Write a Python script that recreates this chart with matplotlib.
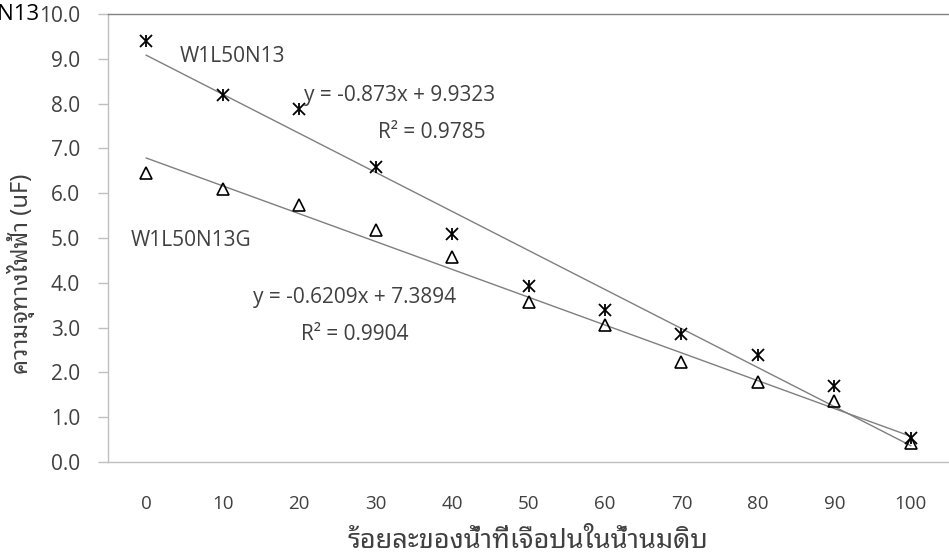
import matplotlib
matplotlib.use("Agg")
import matplotlib.pyplot as plt
import numpy as np

# ---- data ----
water_pct = ["0", "10", "20", "30", "40", "50", "60", "70", "80", "90", "100"]
w1l50n13 = [9.40, 8.19, 7.88, 6.58, 5.09, 3.93, 3.39, 2.86, 2.39, 1.70, 0.54]
w1l50n13g = [6.45, 6.09, 5.74, 5.18, 4.58, 3.57, 3.06, 2.23, 1.79, 1.36, 0.42]
y_ticks = [0.0, 1.0, 2.0, 3.0, 4.0, 5.0, 6.0, 7.0, 8.0, 9.0, 10.0]
series_names = ["W1L50N13", "W1L50N13G"]
eq_texts = ["y = -0.873x + 9.9323", "y = -0.6209x + 7.3894"]
r2_texts = ["R² = 0.9785", "R² = 0.9904"]
x_label = "ร้อยละของน้ำที่เจือปนในน้ำนมดิบ"
y_label = "ความจุทางไฟฟ้า (uF)"

NUM_FONT = ["Open Sans", "DejaVu Sans"]
THAI_FONT = ["Noto Sans Thai Looped", "DejaVu Sans"]
TXT = "#404040"
AX = "#bfbfbf"

fig = plt.figure(figsize=(9.49, 5.58), dpi=100)
ax = fig.add_axes([108 / 949, 1 - 462 / 558, 1 - 108 / 949, (462 - 14) / 558])

x = np.arange(1, len(water_pct) + 1)

# trend lines (linear fit over category index)
for ys in (w1l50n13, w1l50n13g):
    k, b = np.polyfit(x, ys, 1)
    xx = np.array([x[0], x[-1]])
    ax.plot(xx, k * xx + b, color="#7f7f7f", lw=1.0, zorder=2)

# series 1: asterisk markers (x + vertical bar)
ax.plot(x, w1l50n13, ls="none", marker="x", ms=8, mew=1.3, color="black", zorder=3)
ax.plot(x, w1l50n13, ls="none", marker="|", ms=9, mew=1.3, color="black", zorder=3)
# series 2: open triangles
ax.plot(x, w1l50n13g, ls="none", marker="^", ms=8, mew=1.2, mfc="none", mec="black", zorder=3)

ax.set_xlim(0.5, len(water_pct) + 0.5)
ax.set_ylim(0, 10)
ax.set_xticks(x)
ax.set_xticklabels(water_pct, family=NUM_FONT, fontsize=13.5, color=TXT)
ax.set_yticks(y_ticks)
ax.set_yticklabels([f"{v:.1f}" for v in y_ticks], family=NUM_FONT, fontsize=15, color=TXT)
ax.tick_params(axis="x", length=0, pad=24)
ax.tick_params(axis="y", length=7, width=1, color=AX, pad=13)

ax.spines["right"].set_visible(False)
ax.spines["top"].set_color("#808080")
ax.spines["left"].set_color(AX)
ax.spines["bottom"].set_color(AX)
for s in ax.spines.values():
    s.set_linewidth(1.0)

ax.set_xlabel(x_label, family=THAI_FONT, fontsize=19.5, color=TXT)
ax.xaxis.set_label_coords((528 - 108) / (949 - 108), -(541 - 462) / 448)
ax.xaxis.label.set_va("center")
ax.set_ylabel(y_label, family=THAI_FONT, fontsize=17, color=TXT)
ax.yaxis.set_label_coords(-(108 - 21) / 841, (462 - 274) / 448)
ax.yaxis.label.set_va("center")

def px2data(px, py):
    return 1 + (px - 147) / 76.4, (462 - py) / 44.8

kw = dict(family=NUM_FONT, fontsize=15, color=TXT, va="center")
ax.text(*px2data(180, 57), series_names[0], ha="left", **kw)
ax.text(*px2data(400, 95), eq_texts[0], ha="center", **kw)
ax.text(*px2data(432, 133), r2_texts[0], ha="center", **kw)
ax.text(*px2data(131, 240), series_names[1], ha="left", **kw)
ax.text(*px2data(355, 298), eq_texts[1], ha="center", **kw)
ax.text(*px2data(355, 335), r2_texts[1], ha="center", **kw)

# clipped stray label at the top-left corner
fig.text(40 / 949, 1 - 15 / 558, series_names[0], ha="right", va="center",
         family=NUM_FONT, fontsize=16, color="black")

fig.savefig("out.png", dpi=100)
